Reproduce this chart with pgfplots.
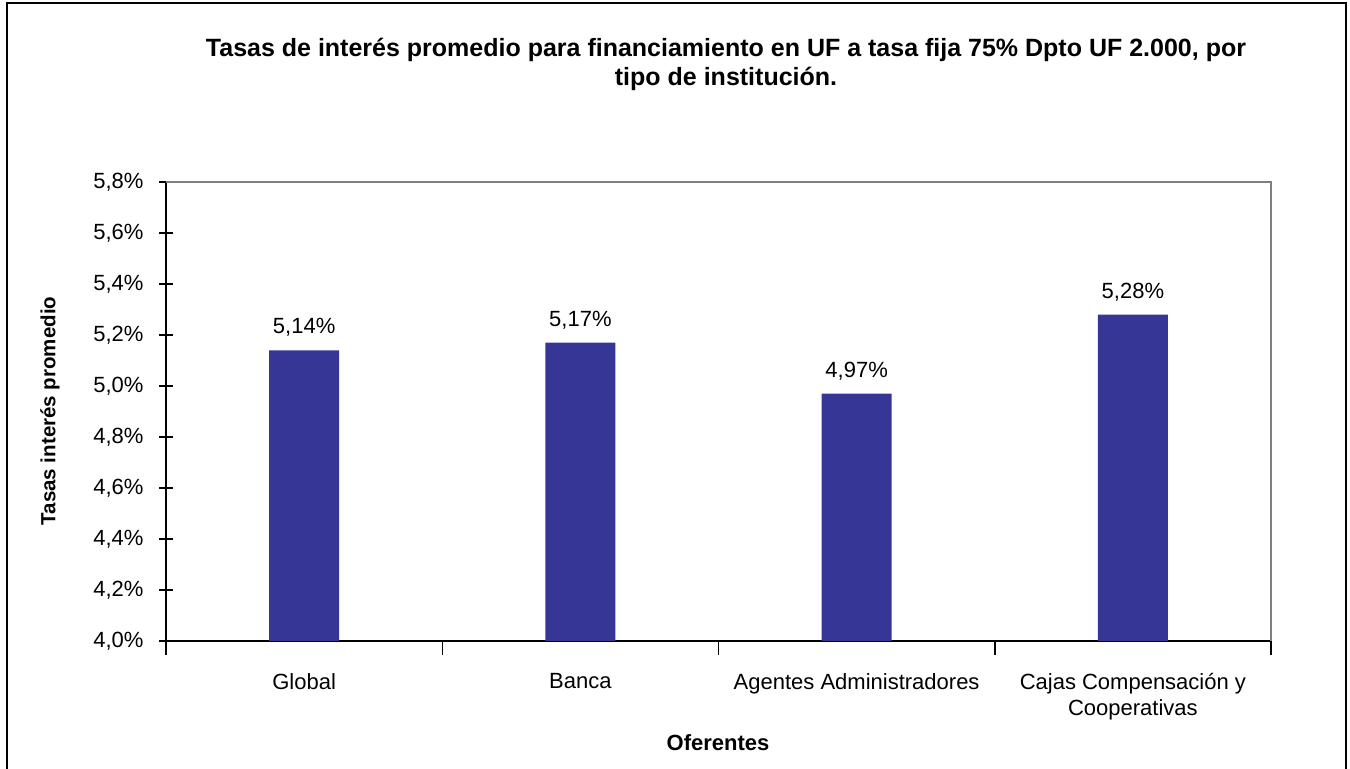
\documentclass[border=0pt]{standalone}
\usepackage{pgfplots}
\pgfplotsset{compat=1.18}
\usepackage{fontspec}
\setmainfont{Liberation Sans}
\definecolor{barblue}{RGB}{54,54,150}
\begin{document}
\fontsize{22bp}{26bp}\selectfont
\begin{tikzpicture}[x=1bp,y=1bp]
\path[use as bounding box] (0,0) rectangle (1350,768);
% outer frame (bottom edge runs off the page)
\draw[line width=2.5bp] (7,-10) -- (7,765) -- (1346,765) -- (1346,-10);
\node[font=\bfseries\fontsize{25bp}{29bp}\selectfont, align=center] at (726,704)
  {Tasas de interés promedio para financiamiento en UF a tasa fija 75\% Dpto UF 2.000, por\\tipo de institución.};
\begin{axis}[
  at={(166bp,127bp)}, anchor=south west,
  scale only axis, width=1105bp, height=459bp,
  xmin=-0.5, xmax=3.5, ymin=4.0, ymax=5.8,
  axis x line*=bottom, axis y line*=left,
  axis line style={line width=1.5bp, black},
  ytick={4.0,4.2,4.4,4.6,4.8,5.0,5.2,5.4,5.6,5.8},
  yticklabels={{4,0\%},{4,2\%},{4,4\%},{4,6\%},{4,8\%},{5,0\%},{5,2\%},{5,4\%},{5,6\%},{5,8\%}},
  xtick={0,1,2,3},
  xticklabels={Global,Banca,Agentes Administradores,{Cajas Compensación y\\Cooperativas}},
  minor xtick={-0.5,0.5,1.5,2.5,3.5},
  major x tick style={draw=none},
  tick align=center,
  major tick length=14bp, minor tick length=14bp,
  tick style={line width=1.5bp, black},
  every tick label/.append style={font=\fontsize{22bp}{26bp}\selectfont},
  xticklabel style={align=center, yshift=-11bp},
  yticklabel style={xshift=-8bp},
  ybar, bar width=70bp,
  nodes near coords, point meta=explicit symbolic,
  every node near coord/.append style={font=\fontsize{22bp}{26bp}\selectfont, yshift=6bp},
  clip=false,
]
\draw[gray, line width=1.2bp] (rel axis cs:0,1) -- (rel axis cs:1,1) -- (rel axis cs:1,0);
\addplot[fill=barblue, draw=none] coordinates {
  (0,5.14) [5,14\%]
  (1,5.17) [5,17\%]
  (2,4.97) [4,97\%]
  (3,5.28) [5,28\%]
};
\end{axis}
\node[font=\bfseries\fontsize{20.5bp}{24bp}\selectfont, rotate=90] at (50,357) {Tasas interés promedio};
\node[font=\bfseries] at (718,25) {Oferentes};
\end{tikzpicture}
\end{document}
